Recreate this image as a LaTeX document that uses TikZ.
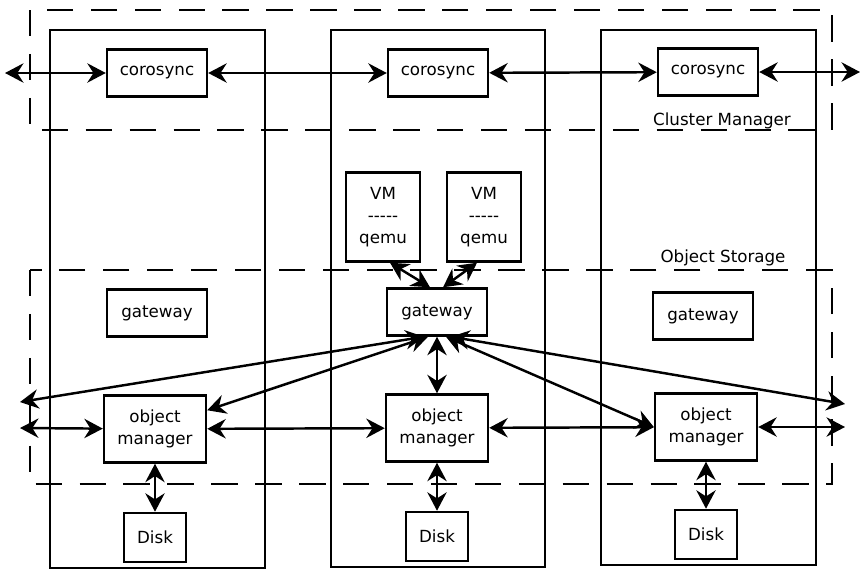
\documentclass[tikz,border=0pt]{standalone}
\usepackage{fontspec}
\setmainfont{DejaVu Sans}
\usetikzlibrary{positioning,arrows.meta,calc}

\begin{document}
\begin{tikzpicture}[x=0.02cm,y=-0.02cm,
	box/.style={draw,line width=1.4pt,inner sep=0pt,minimum width=2cm,minimum height=0.94cm,align=center,font=\fontsize{9.5}{12.5}\selectfont},
	vmbox/.style={box,minimum width=1.48cm,minimum height=1.78cm},
	ombox/.style={box,minimum width=2.04cm,minimum height=1.34cm},
	diskbox/.style={box,minimum width=1.24cm,minimum height=0.98cm},
	frame/.style={line width=1.4pt},
	zone/.style={line width=1.4pt,dash pattern=on 15pt off 10pt},
	zonelabel/.style={inner sep=0pt,font=\fontsize{9.5}{12.5}\selectfont},
	link/.style={line width=1.4pt,{Stealth[length=10.5pt,width=11pt,inset=3.5pt]}-{Stealth[length=10.5pt,width=11pt,inset=3.5pt]}}]
		\useasboundingbox (0,0) rectangle (865,579);

		% hosts
		\draw[frame] (50,30) rectangle (265,568);
		\draw[frame] (331,30) rectangle (545,567);
		\draw[frame] (601,30) rectangle (816,565);

		% layers
		\draw[zone] (30,10) rectangle (832,130);
		\draw[zone] (30,270) rectangle (832,484);
		\node[zonelabel,anchor=base]	(cmlabel)	at (722,125)	{Cluster Manager};
		\node[zonelabel,anchor=base]	(oslabel)	at (723,262)	{Object Storage};

		\node[box]		(cs1)	at (157,73)		{corosync};
		\node[box]		(cs2)	at (438,73)		{corosync};
		\node[box]		(cs3)	at (708,72)		{corosync};

		\node[vmbox]	(vm1)	at (383,217)	{VM\\-{}-{}-{}-{}-\\qemu};
		\node[vmbox]	(vm2)	at (484,217)	{VM\\-{}-{}-{}-{}-\\qemu};

		\node[box]		(gw1)	at (157,313)	{gateway};
		\node[box]		(gw2)	at (437,312)	{gateway};
		\node[box]		(gw3)	at (703,316)	{gateway};

		\node[ombox]	(om1)	at (155,429)	{object\\manager};
		\node[ombox]	(om2)	at (437,428)	{object\\manager};
		\node[ombox]	(om3)	at (706,427)	{object\\manager};

		\node[diskbox,node distance=0.96cm,below=of om1]	(d1)	{Disk};
		\node[diskbox,node distance=0.96cm,below=of om2]	(d2)	{Disk};
		\node[diskbox,node distance=0.94cm,below=of om3]	(d3)	{Disk};

		\coordinate (csl)	at (5,73);
		\coordinate (csr)	at (860,72);
		\coordinate (l1)	at (20,402);
		\coordinate (l2)	at (20,428);
		\coordinate (r1)	at (845,404);
		\coordinate (r2)	at (845,427);

		\draw[link] (csl) -- (cs1);
		\draw[link] (cs1) -- (cs2);
		\draw[link] (cs2) -- (cs3);
		\draw[link] (cs3) -- (csr);

		\draw[link] ($(vm1.south)+(7,0)$) -- ($(gw2.north)+(-7,0)$);
		\draw[link] ($(vm2.south)+(-7,0)$) -- ($(gw2.north)+(6,0)$);

		\draw[link] ($(gw2.south)+(-13,0)$) -- (l1);
		\draw[link] ($(gw2.south)+(-9,0)$) -- ($(om1.north east)+(0,16)$);
		\draw[link] (gw2) -- (om2);
		\draw[link] ($(gw2.south)+(9,0)$) -- (om3.west);
		\draw[link] ($(gw2.south)+(14,0)$) -- (r1);

		\draw[link] (l2) -- (om1);
		\draw[link] (om1) -- (om2);
		\draw[link] (om2) -- (om3);
		\draw[link] (om3) -- (r2);

		\draw[link] (om1) -- (d1);
		\draw[link] (om2) -- (d2);
		\draw[link] (om3) -- (d3);
	\end{tikzpicture}
\end{document}
